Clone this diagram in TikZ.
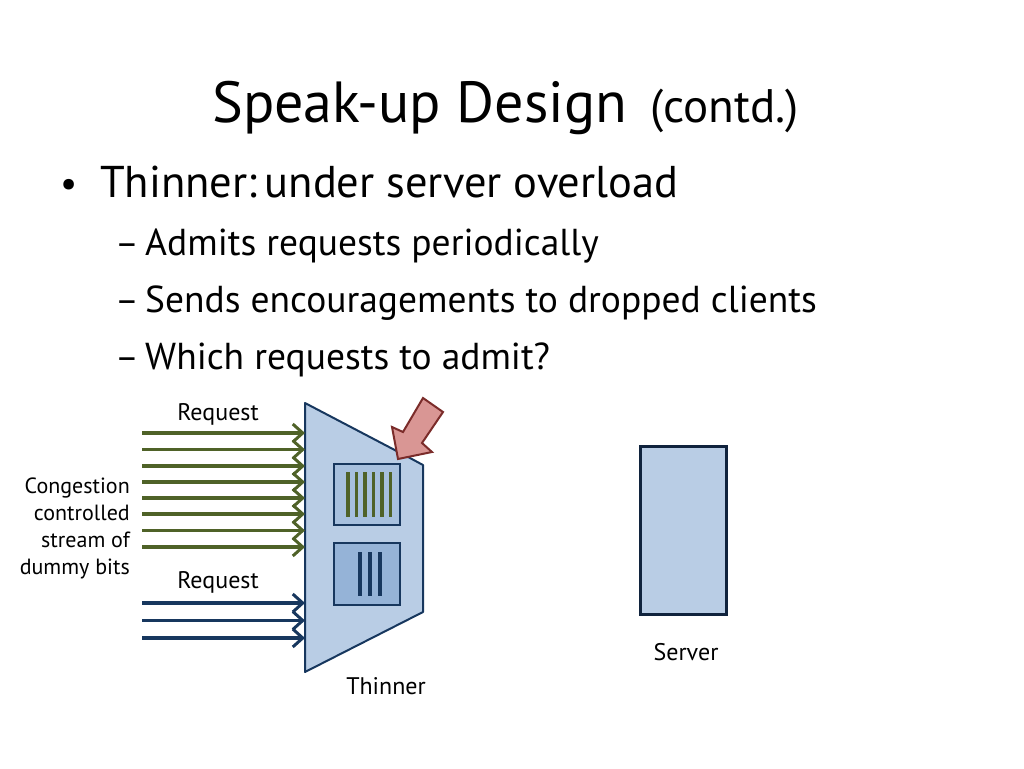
\documentclass[tikz,border=0pt]{standalone}
\usepackage{fontspec}
\setmainfont{PT Sans}
\usetikzlibrary{arrows.meta}
\definecolor{olive}{HTML}{4F6228}
\definecolor{navy}{HTML}{17375E}
\definecolor{thinfill}{HTML}{B9CDE5}
\definecolor{boxa}{HTML}{A7C0DE}
\definecolor{boxb}{HTML}{95B3D7}
\definecolor{redfill}{HTML}{D99694}
\definecolor{redline}{HTML}{7B2C2A}
\definecolor{srvline}{HTML}{10233D}
\tikzset{
  greq/.style={draw=olive,line width=3.8pt,-{Straight Barb[length=10pt,width=18pt,line width=3pt]}},
  breq/.style={draw=navy,line width=3.8pt,-{Straight Barb[length=10pt,width=18pt,line width=3pt]}},
  txt/.style={inner sep=0pt,anchor=base west},
  lbl/.style={inner sep=0pt,font=\fontsize{24}{28}\selectfont},
}
\begin{document}
\begin{tikzpicture}[x=1pt,y=-1pt]
\useasboundingbox (0,0) rectangle (1024,768);
% title
\node[txt,font=\fontsize{58}{68}\selectfont] (title) at (212,122) {Speak-up Design};
\node[txt,font=\fontsize{47}{55}\selectfont] (contd) at (650,122) {(contd.)};
% bullets
\node[txt,font=\fontsize{38}{46}\selectfont] (b1) at (60,196) {•};
\node[txt,font=\fontsize{44.5}{52}\selectfont] (t1) at (100,197) {Thinner:\,under server overload};
\node[txt,font=\fontsize{36}{44}\selectfont] (d1) at (115,255) {–};
\node[txt,font=\fontsize{37.5}{44}\selectfont] (t2) at (145,255) {Admits requests periodically};
\node[txt,font=\fontsize{36}{44}\selectfont] (d2) at (115,312) {–};
\node[txt,font=\fontsize{37.5}{44}\selectfont] (t3) at (145,312) {Sends encouragements to dropped clients};
\node[txt,font=\fontsize{36}{44}\selectfont] (d3) at (115,369) {–};
\node[txt,font=\fontsize{37.5}{44}\selectfont] (t4) at (145,369) {Which requests to admit?};
% thinner
\draw[fill=thinfill,draw=navy,line width=2pt,line join=round] (305,403) -- (410,458) -- (423,465) -- (423,612) -- (305,672) -- cycle;
\node[draw=navy,fill=boxa,line width=2pt,minimum width=66pt,minimum height=61pt,inner sep=0pt] (qa) at (367,494.5) {};
\node[draw=navy,fill=boxb,line width=2pt,minimum width=66pt,minimum height=62pt,inner sep=0pt] (qb) at (367,574) {};
\foreach \x in {348,356.5,365,373.5,382,390.5}
  \draw[olive,line width=3.5pt] (\x,472) -- (\x,517);
\foreach \x in {360,370,380}
  \draw[navy,line width=3.5pt] (\x,552) -- (\x,596);
% red arrow
\draw[fill=redfill,draw=redline,line width=2pt,line join=miter]
  (423,398) -- (443,412) -- (422,443) -- (432,452) -- (398,459) -- (392,427) -- (403,432) -- cycle;
% green arrows
\foreach \y [count=\i] in {433,449.5,466,482,498,514,530.5,547} {
  \coordinate (gs\i) at (142,\y);
  \coordinate (ge\i) at (305,\y);
  \draw[greq] (gs\i) -- (ge\i);
}
\foreach \y [count=\i] in {603,620.5,638} {
  \coordinate (bs\i) at (142,\y);
  \coordinate (be\i) at (305,\y);
  \draw[breq] (bs\i) -- (be\i);
}
% labels
\node[lbl] (req1) at (218,414) {Request};
\node[lbl] (req2) at (218,582) {Request};
\node[lbl,anchor=east,align=right,font=\fontsize{22}{27}\selectfont] (cong) at (130,528) {Congestion\\controlled\\stream of\\dummy bits};
% server
\node[draw=srvline,fill=thinfill,line width=2.5pt,minimum width=86pt,minimum height=168pt,inner sep=0pt] (server) at (683.5,530.5) {};
\node[lbl] (srvlbl) at (686,652) {Server};
\node[lbl] (thinlbl) at (386,686) {Thinner};
\end{tikzpicture}
\end{document}
